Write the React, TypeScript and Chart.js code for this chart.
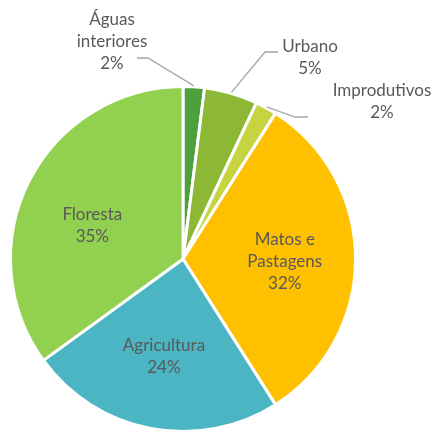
import React, { useEffect, useRef } from "react";
import { Chart, registerables } from "chart.js";

Chart.register(...registerables);

const categories = ["Águas interiores", "Urbano", "Improdutivos", "Matos e Pastagens", "Agricultura", "Floresta"];
const values = [2, 5, 2, 32, 24, 35];
const colors = ["#4EA03C", "#8DB836", "#C6D43F", "#FFC000", "#4BB5C4", "#92D050"];
// display lines of each label
const labelLines = [
  ["Águas", "interiores"],
  ["Urbano"],
  ["Improdutivos"],
  ["Matos e", "Pastagens"],
  ["Agricultura"],
  ["Floresta"],
];
// outside labels: text center offset from pie center, leader elbow and end (relative to pie center)
const outside: Record<number, { tx: number; ty: number; ex: number; ey: number; lx: number; ly: number }> = {
  0: { tx: -71, ty: -239, ex: -35, ey: -201, lx: -46, ly: -201 },
  1: { tx: 127, ty: -212, ex: 82, ey: -207, lx: 95, ly: -207 },
  2: { tx: 199, ty: -168, ex: 112, ey: -142, lx: 125, ly: -142 },
};
// small vertical nudges for inside labels
const insideNudge: Record<number, number> = { 3: 3, 4: -2, 5: 13 };

const FONT = "17px Lato, 'Open Sans', sans-serif";
const TEXT = "#595959";
const LINE_H = 22;

const labelPlugin = {
  id: "pieLabels",
  afterDatasetsDraw(chart: any) {
    const ctx = chart.ctx;
    const meta = chart.getDatasetMeta(0);
    const total = values.reduce((a, b) => a + b, 0);
    ctx.save();
    ctx.font = FONT;
    ctx.fillStyle = TEXT;
    ctx.textAlign = "center";
    ctx.textBaseline = "middle";
    meta.data.forEach((arc: any, i: number) => {
      const { x, y, startAngle, endAngle, outerRadius } = arc.getProps(
        ["x", "y", "startAngle", "endAngle", "outerRadius"],
        true
      );
      const mid = (startAngle + endAngle) / 2;
      const pct = Math.round((values[i] / total) * 100) + "%";
      const lines = [...labelLines[i], pct];
      const o = outside[i];
      if (o) {
        const r0 = outerRadius + 1;
        const sx = x + Math.cos(mid) * r0;
        const sy = y + Math.sin(mid) * r0;
        ctx.strokeStyle = "#A6A6A6";
        ctx.lineWidth = 1.3;
        ctx.beginPath();
        ctx.moveTo(sx, sy);
        ctx.lineTo(x + o.ex, y + o.ey);
        ctx.lineTo(x + o.lx, y + o.ly);
        ctx.stroke();
        const startY = y + o.ty;
        lines.forEach((t, k) => ctx.fillText(t, x + o.tx, startY + k * LINE_H));
      } else {
        const r = outerRadius * 0.59;
        const cx = x + Math.cos(mid) * r;
        const cy = y + Math.sin(mid) * r + (insideNudge[i] || 0);
        const startY = cy - ((lines.length - 1) * LINE_H) / 2;
        lines.forEach((t, k) => ctx.fillText(t, cx, startY + k * LINE_H));
      }
    });
    ctx.restore();
  },
};

export default function App() {
  const ref = useRef<HTMLCanvasElement>(null);
  useEffect(() => {
    document.body.style.margin = "0";
    const chart = new Chart(ref.current!, {
      type: "pie",
      data: {
        labels: categories,
        datasets: [
          {
            data: values,
            backgroundColor: colors,
            borderColor: "#FFFFFF",
            borderWidth: 3,
          },
        ],
      },
      options: {
        animation: false,
        responsive: false,
        layout: { padding: { left: 9, right: 79, top: 85, bottom: 7 } },
        plugins: {
          legend: { display: false },
          tooltip: { enabled: false },
        },
      },
      plugins: [labelPlugin],
    });
    return () => chart.destroy();
  }, []);
  return (
    <div style={{ position: "fixed", left: 0, top: 0, width: 436, height: 430, overflow: "hidden", background: "#fff" }}>
      <canvas ref={ref} width={436} height={440} style={{ width: 436, height: 440 }} />
    </div>
  );
}
